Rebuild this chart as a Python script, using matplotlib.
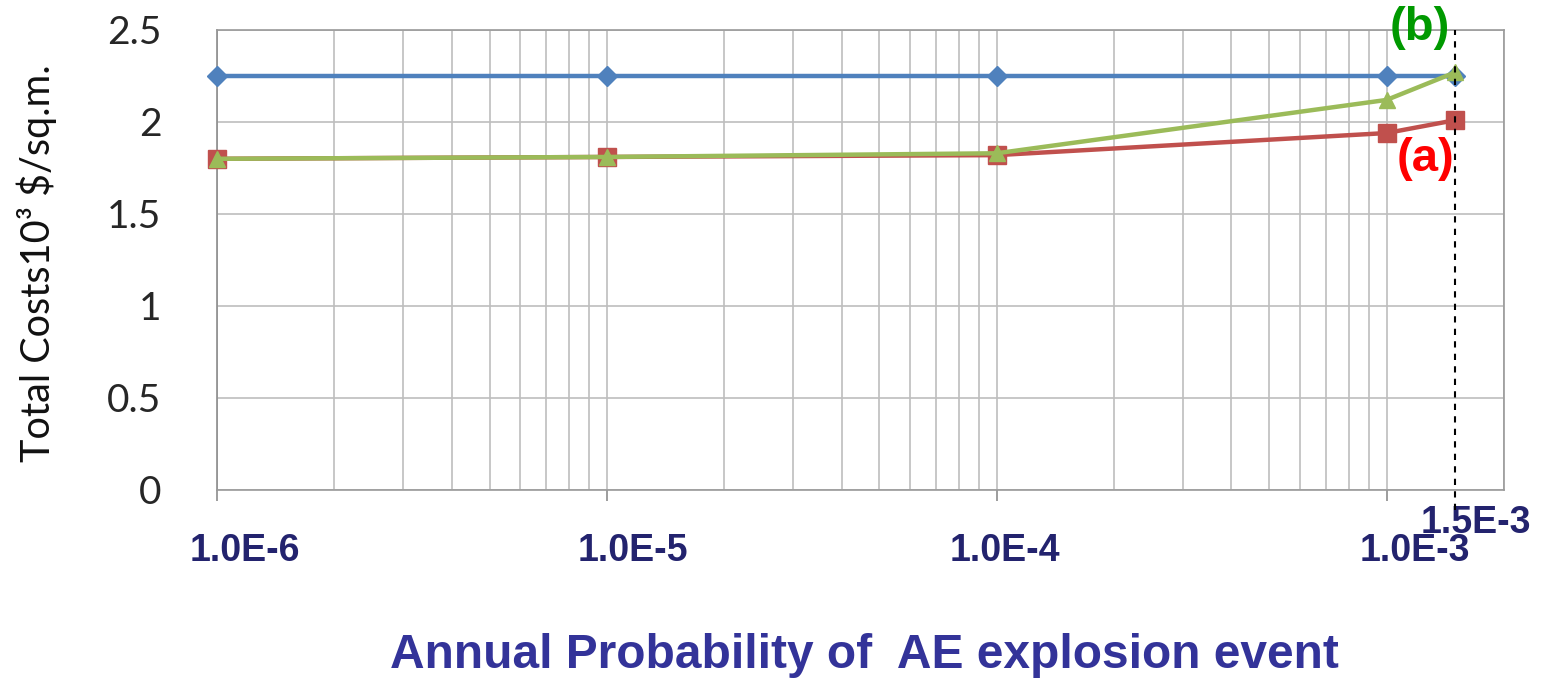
import matplotlib
matplotlib.use("Agg")
import matplotlib.pyplot as plt
from matplotlib.ticker import LogLocator, NullFormatter, FixedLocator

# Data
prob = [1e-6, 1e-5, 1e-4, 1e-3, 1.5e-3]
series_blue = [2.25, 2.25, 2.25, 2.25, 2.25]
series_red = [1.80, 1.81, 1.82, 1.94, 2.01]
series_green = [1.80, 1.81, 1.83, 2.12, 2.27]
xtick_vals = [1e-6, 1e-5, 1e-4, 1e-3]
xtick_labels = ["1.0E-6", "1.0E-5", "1.0E-4", "1.0E-3"]
ytick_vals = [0, 0.5, 1, 1.5, 2, 2.5]
ytick_labels = ["0", "0.5", "1", "1.5", "2", "2.5"]
marker_x = 1.5e-3
marker_label = "1.5E-3"

navy = "#23236E"
fig = plt.figure(figsize=(15.46, 6.88), dpi=100)
ax = fig.add_axes([217/1546, 1 - 490/688, (1504-217)/1546, (490-30)/688])

ax.plot(prob, series_blue, color="#4F81BD", lw=3.2, marker="D", ms=10, zorder=3, clip_on=False)
ax.plot(prob, series_red, color="#C0504D", lw=3.2, marker="s", ms=13, zorder=4, clip_on=False)
ax.plot(prob, series_green, color="#9BBB59", lw=3.2, marker="^", ms=12, zorder=5, clip_on=False)

ax.set_xscale("log")
ax.set_xlim(1e-6, 2e-3)
ax.set_ylim(0, 2.5)

ax.xaxis.set_major_locator(FixedLocator(xtick_vals))
ax.xaxis.set_minor_locator(LogLocator(base=10, subs=range(2, 10), numticks=20))
ax.xaxis.set_major_formatter(NullFormatter())
ax.xaxis.set_minor_formatter(NullFormatter())
ax.set_yticks(ytick_vals)
ax.set_yticklabels(ytick_labels, family="Lato", fontsize=28, color="#262626")

ax.grid(True, which="both", axis="x", color="#BEBEBE", lw=1.2)
ax.grid(True, which="major", axis="y", color="#BEBEBE", lw=1.2)
ax.set_axisbelow(True)
ax.tick_params(axis="y", length=0, pad=40)
ax.tick_params(axis="x", which="major", length=8, width=1.2, color="#8C8C8C", direction="out")
ax.tick_params(axis="x", which="minor", length=0)
for s in ax.spines.values():
    s.set_color("#9A9A9A")
    s.set_linewidth(1.2)
ax.spines["left"].set_color("#8C8C8C")

# dashed marker line
ax.axvline(marker_x, ymin=-0.043, ymax=1.0, color="black", lw=1.5, ls=(0, (3, 3)), clip_on=False, zorder=6)

# custom x tick labels
offsets = [28, 26, 8, 28]
for v, lab, off in zip(xtick_vals, xtick_labels, offsets):
    ax.annotate(lab, xy=(v, 0), xycoords=("data", "axes fraction"), xytext=(off, -61),
                textcoords="offset pixels", ha="center", va="center",
                fontsize=27, fontweight="bold", color=navy, family="Liberation Sans")
ax.annotate(marker_label, xy=(marker_x, 0), xycoords=("data", "axes fraction"), xytext=(21, -33),
            textcoords="offset pixels", ha="center", va="center",
            fontsize=27, fontweight="bold", color=navy, family="Liberation Sans")

# series labels
ax.annotate("(b)", xy=(marker_x, 2.5), xytext=(-35, 2), textcoords="offset pixels",
            ha="center", va="center", fontsize=34, fontweight="bold", color="#009900",
            family="Liberation Sans", annotation_clip=False)
ax.annotate("(a)", xy=(marker_x, series_red[-1]), xytext=(-30, -39), textcoords="offset pixels",
            ha="center", va="center", fontsize=34, fontweight="bold", color="#FF0000",
            family="Liberation Sans", annotation_clip=False)

fig.text(37/1546, 1 - 263/688, "Total Costs10³ $/sq.m.", rotation=90, ha="center", va="center",
         fontsize=28.5, family="Lato", color="#111111")
fig.text(864/1546, 1 - 655/688, "Annual Probability of  AE explosion event", ha="center", va="center",
         fontsize=34.5, fontweight="bold", color="#333399", family="Liberation Sans")

fig.savefig("out.png", dpi=100)
